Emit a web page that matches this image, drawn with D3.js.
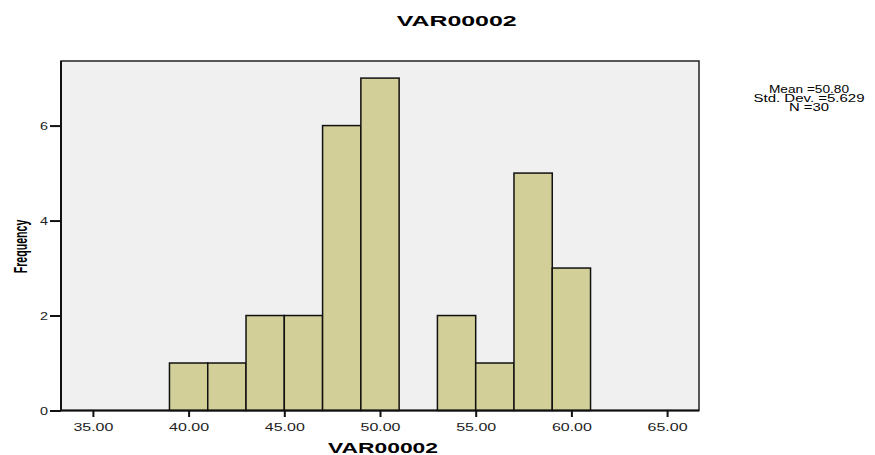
<!DOCTYPE html>
<html><head><meta charset="utf-8">
<script src="https://cdn.jsdelivr.net/npm/d3@7/dist/d3.min.js"></script>
<style>body{margin:0;background:#fff}</style>
</head><body>
<script>
const binStarts = [39, 41, 43, 45, 47, 49, 53, 55, 57, 59];
const binWidth = 2;
const frequencies = [1, 1, 2, 2, 6, 7, 2, 1, 5, 3];
const xTicks = [35, 40, 45, 50, 55, 60, 65];
const yTicks = [0, 2, 4, 6];
const statsLines = ["Mean =50.80", "Std. Dev. =5.629", "N =30"];

const W = 875, H = 455;
const m = {left: 61, right: 699, top: 61, bottom: 410.5};
const FONT = "Liberation Sans, Arial, sans-serif";
const svg = d3.select("body").append("svg").attr("width", W).attr("height", H);
const x = d3.scaleLinear().domain([33.333, 66.667]).range([m.left, m.right]);
const y = d3.scaleLinear().domain([0, 7.36]).range([m.bottom, m.top]);

svg.append("rect").attr("x", m.left).attr("y", m.top).attr("width", m.right - m.left).attr("height", m.bottom - m.top)
  .attr("fill", "#f0f0f0").attr("stroke", "#222").attr("stroke-width", 1.5);

svg.selectAll("rect.bar").data(binStarts).enter().append("rect").attr("class", "bar")
  .attr("x", d => x(d)).attr("width", d => x(d + binWidth) - x(d))
  .attr("y", (d, i) => y(frequencies[i])).attr("height", (d, i) => y(0) - y(frequencies[i]))
  .attr("fill", "#d3cf98").attr("stroke", "#111").attr("stroke-width", 1.5);

const xa = svg.append("g").attr("transform", `translate(0,${m.bottom})`)
  .call(d3.axisBottom(x).tickValues(xTicks).tickFormat(d3.format(".2f")).tickSize(6.5).tickPadding(7));
xa.select(".domain").attr("stroke", "#111").attr("stroke-width", 2).attr("d", `M${m.left},0H${m.right}`);
xa.selectAll(".tick line").attr("stroke", "#111").attr("stroke-width", 2);
xa.selectAll("text").attr("font-family", FONT).attr("font-size", 10).attr("fill", "#222")
  .attr("textLength", 40).attr("lengthAdjust", "spacingAndGlyphs");

const ya = svg.append("g").attr("transform", `translate(${m.left},0)`)
  .call(d3.axisLeft(y).tickValues(yTicks).tickFormat(d3.format("d")).tickSize(11).tickPadding(2));
ya.select(".domain").attr("stroke", "#111").attr("stroke-width", 2).attr("d", `M0,${m.top}V${m.bottom}`);
ya.selectAll(".tick line").attr("stroke", "#111").attr("stroke-width", 2);
ya.selectAll("text").attr("font-family", FONT).attr("font-size", 11.5).attr("fill", "#222")
  .attr("textLength", 8).attr("lengthAdjust", "spacingAndGlyphs");

svg.append("text").attr("x", 456.7).attr("y", 26).attr("text-anchor", "middle")
  .attr("font-family", FONT).attr("font-weight", "bold").attr("font-size", 14)
  .attr("textLength", 120).attr("lengthAdjust", "spacingAndGlyphs")
  .text("VAR00002");
svg.append("text").attr("x", 383).attr("y", 453).attr("text-anchor", "middle")
  .attr("font-family", FONT).attr("font-weight", "bold").attr("font-size", 14)
  .attr("textLength", 110).attr("lengthAdjust", "spacingAndGlyphs")
  .text("VAR00002");
svg.append("text").attr("transform", "translate(27,246.5) rotate(-90) scale(0.56,1)").attr("text-anchor", "middle")
  .attr("font-family", FONT).attr("font-weight", "bold").attr("font-size", 19)
  .text("Frequency");

const statsLens = [80, 111, 40];
svg.append("g").selectAll("text").data(statsLines).enter().append("text")
  .attr("x", 809).attr("y", (d, i) => 92.5 + i * 9.4).attr("text-anchor", "middle")
  .attr("font-family", FONT).attr("font-size", 10)
  .attr("textLength", (d, i) => statsLens[i]).attr("lengthAdjust", "spacingAndGlyphs")
  .text(d => d);
</script>
</body></html>
